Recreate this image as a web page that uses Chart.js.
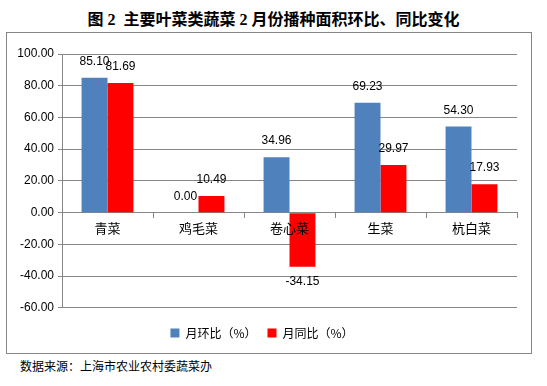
<!DOCTYPE html>
<html>
<head>
<meta charset="utf-8">
<script src="https://cdn.jsdelivr.net/npm/chart.js@4"></script>
<style>
  body{margin:0;width:547px;height:386px;background:#fff;position:relative;font-family:"Liberation Sans","Noto Sans CJK SC",sans-serif}
  .title{position:absolute;left:0;top:6px;width:547px;text-align:center;font:bold 16px "Liberation Serif","Noto Sans CJK SC",serif;color:#000}
  .frame{position:absolute;left:6px;top:32px;width:524px;height:320px;border:1px solid #868686}
  .src{position:absolute;left:20px;top:357px;font:12px "Noto Sans CJK SC",sans-serif;color:#000}
</style>
</head>
<body>
<div class="title">图 2&nbsp; 主要叶菜类蔬菜 2 月份播种面积环比、同比变化</div>
<div class="frame"><canvas id="c" width="524" height="320"></canvas></div>
<div class="src">数据来源：上海市农业农村委蔬菜办</div>
<script>
const CATS=['青菜','鸡毛菜','卷心菜','生菜','杭白菜']
const HUANBI=[85.10,0.00,34.96,69.23,54.30]
const TONGBI=[81.69,10.49,-34.15,29.97,17.93]
const Y_MIN=-60,Y_MAX=100,Y_STEP=20
const gc='#868686'

const valueLabels={id:'valueLabels',afterDatasetsDraw(chart){
  const ctx=chart.ctx
  ctx.save()
  ctx.font='12px "Liberation Sans", Arial, sans-serif'
  ctx.fillStyle='#000'
  ctx.textAlign='center'
  ctx.textBaseline='middle'
  chart.data.datasets.forEach((ds,i)=>{
    chart.getDatasetMeta(i).data.forEach((bar,j)=>{
      const v=ds.data[j]
      const y=v>=0?bar.y-16:bar.y+15
      ctx.fillText(v.toFixed(2),bar.x,y)
    })
  })
  ctx.restore()
}}

new Chart(document.getElementById('c'),{type:'bar',data:{labels:CATS,datasets:[
  {label:'月环比（%）',data:HUANBI,backgroundColor:'#4f81bd'},
  {label:'月同比（%）',data:TONGBI,backgroundColor:'#ff0000'},
]},options:{responsive:false,animation:false,
  categoryPercentage:0.57,barPercentage:1,
  layout:{padding:{top:21,right:14,bottom:4,left:0}},
  plugins:{tooltip:{enabled:false},
    legend:{position:'bottom',
      title:{display:true,text:' ',font:{size:1},padding:{top:0,bottom:7}},
      labels:{boxWidth:9,boxHeight:9,padding:11,color:'#000',font:{size:12,family:'"Noto Sans CJK SC", sans-serif'}}}},
  scales:{
    x:{position:{y:0},offset:true,
      grid:{drawOnChartArea:false,color:gc,tickLength:5,offset:true},
      border:{color:gc},
      ticks:{z:1,color:'#000',padding:3,font:{size:13,family:'"Noto Sans CJK SC", sans-serif'}}},
    y:{min:Y_MIN,max:Y_MAX,
      afterFit:s=>{s.width=55},
      grid:{color:gc,tickLength:4},
      border:{color:gc},
      ticks:{stepSize:Y_STEP,color:'#000',padding:4,font:{size:12,family:'"Liberation Sans", Arial, sans-serif'},callback:v=>v.toFixed(2)}}
  }},plugins:[valueLabels]})
</script>
</body>
</html>
